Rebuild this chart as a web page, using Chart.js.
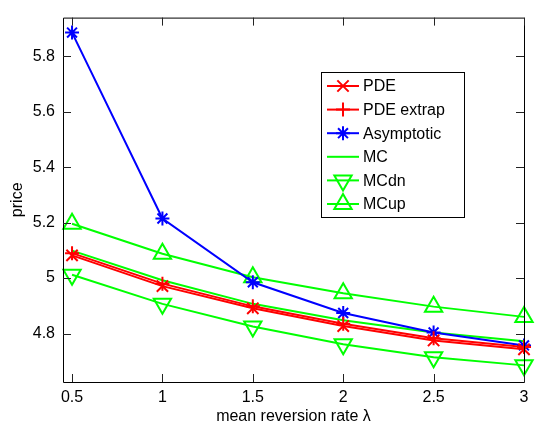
<!DOCTYPE html>
<html>
<head>
<meta charset="utf-8">
<script src="https://cdn.jsdelivr.net/npm/chart.js@4/dist/chart.umd.min.js"></script>
<style>
  html, body { margin: 0; padding: 0; background: #fff; }
  #wrap { width: 536px; height: 428px; }
</style>
</head>
<body>
<div id="wrap"><canvas id="chart" width="536" height="428"></canvas></div>
<script>
// mean reversion rate lambda
const lambdas = [0.5, 1, 1.5, 2, 2.5, 3];

const pde       = [5.082, 4.971, 4.891, 4.827, 4.775, 4.743];
const pdeExtrap = [5.090, 4.980, 4.898, 4.835, 4.783, 4.751];
const asymp     = [5.886, 5.215, 4.985, 4.874, 4.804, 4.757];
const mc        = [5.099, 4.992, 4.907, 4.848, 4.804, 4.772];
const mcDn      = [5.012, 4.907, 4.825, 4.761, 4.714, 4.685];
const mcUp      = [5.196, 5.088, 5.003, 4.945, 4.897, 4.860];

const xTicks = [0.5, 1, 1.5, 2, 2.5, 3];
const yTicks = [4.8, 5, 5.2, 5.4, 5.6, 5.8];

const FONT = 'Liberation Sans, Arial, Helvetica, sans-serif';

function series(label, data, color, style, radius, rotation) {
    return {
        label: label,
        data: lambdas.map((x, i) => ({ x: x, y: data[i] })),
        borderColor: color,
        backgroundColor: 'rgba(0,0,0,0)',
        pointBorderColor: color,
        pointBackgroundColor: 'rgba(0,0,0,0)',
        pointStyle: style,
        pointRadius: radius,
        pointHoverRadius: radius,
        pointBorderWidth: 2,
        pointRotation: rotation || 0,
        borderWidth: 2,
        tension: 0,
        fill: false,
        clip: false
    };
}

const datasets = [
    series('PDE', pde, '#ff0000', 'crossRot', 8),
    series('PDE extrap', pdeExtrap, '#ff0000', 'cross', 7),
    series('Asymptotic', asymp, '#0000ff', 'star', 7),
    series('MC', mc, '#00ff00', false, 0),
    series('MCdn', mcDn, '#00ff00', 'triangle', 10, 180),
    series('MCup', mcUp, '#00ff00', 'triangle', 10)
];

// box, inward ticks and legend, matlab style
const boxPlugin = {
    id: 'boxPlugin',
    afterDraw(chart) {
        const ctx = chart.ctx;
        const a = chart.chartArea;
        const xs = chart.scales.x, ys = chart.scales.y;
        ctx.save();
        ctx.strokeStyle = '#000';
        ctx.lineWidth = 1;
        ctx.beginPath();
        ctx.rect(a.left + 0.5, a.top + 0.5, a.right - a.left, a.bottom - a.top);
        ctx.stroke();
        ctx.strokeStyle = '#222';
        ctx.beginPath();
        const tl = 8;
        xTicks.forEach(v => {
            const px = Math.round(xs.getPixelForValue(v)) + 0.5;
            ctx.moveTo(px, a.bottom); ctx.lineTo(px, a.bottom - tl);
            ctx.moveTo(px, a.top); ctx.lineTo(px, a.top + tl);
        });
        yTicks.forEach(v => {
            const py = Math.round(ys.getPixelForValue(v)) + 0.5;
            ctx.moveTo(a.left, py); ctx.lineTo(a.left + tl, py);
            ctx.moveTo(a.right, py); ctx.lineTo(a.right - tl, py);
        });
        ctx.stroke();

        // legend
        const lx = 321, ly = 72, lw = 143, lh = 145;
        ctx.fillStyle = '#fff';
        ctx.fillRect(lx, ly, lw, lh);
        ctx.strokeStyle = '#000';
        ctx.strokeRect(lx + 0.5, ly + 0.5, lw, lh);
        ctx.font = '16px ' + FONT;
        ctx.textBaseline = 'middle';
        chart.data.datasets.forEach((ds, i) => {
            const y = ly + 14 + i * 23.6;
            ctx.strokeStyle = ds.borderColor;
            ctx.lineWidth = 2;
            ctx.beginPath();
            ctx.moveTo(lx + 6, y); ctx.lineTo(lx + 38, y);
            ctx.stroke();
            if (ds.pointStyle) {
                ctx.fillStyle = 'rgba(0,0,0,0)';
                Chart.helpers.drawPoint(ctx, {
                    pointStyle: ds.pointStyle,
                    radius: ds.pointRadius,
                    rotation: ds.pointRotation,
                    borderWidth: 2
                }, lx + 22, y);
            }
            ctx.fillStyle = '#000';
            ctx.fillText(ds.label, lx + 42, y + 1);
        });
        ctx.restore();
    }
};

new Chart(document.getElementById('chart').getContext('2d'), {
    type: 'line',
    data: { datasets: datasets },
    options: {
        responsive: false,
        animation: false,
        layout: { padding: { top: 6, right: 6, left: 0, bottom: 0 } },
        plugins: {
            legend: { display: false },
            tooltip: { enabled: false }
        },
        scales: {
            x: {
                type: 'linear',
                min: 0.45,
                max: 3,
                grid: { display: false, drawTicks: false },
                border: { display: false },
                afterBuildTicks: s => { s.ticks = xTicks.map(v => ({ value: v })); },
                afterFit: s => { s.height = 46; },
                ticks: {
                    padding: 6,
                    color: '#000',
                    font: { family: FONT, size: 16 },
                    callback: v => String(v)
                },
                title: {
                    display: true,
                    text: 'mean reversion rate λ',
                    color: '#000',
                    font: { family: FONT, size: 16 },
                    padding: { top: 0, bottom: 2 }
                }
            },
            y: {
                type: 'linear',
                min: 4.625,
                max: 5.94,
                grid: { display: false, drawTicks: false },
                border: { display: false },
                afterBuildTicks: s => { s.ticks = yTicks.map(v => ({ value: v })); },
                afterFit: s => { s.width = 63; },
                ticks: {
                    padding: 8,
                    color: '#000',
                    font: { family: FONT, size: 16 },
                    callback: v => String(v)
                },
                title: {
                    display: true,
                    text: 'price',
                    color: '#000',
                    font: { family: FONT, size: 16 },
                    padding: { top: 8, bottom: 0 }
                }
            }
        }
    },
    plugins: [boxPlugin]
});
</script>
</body>
</html>
